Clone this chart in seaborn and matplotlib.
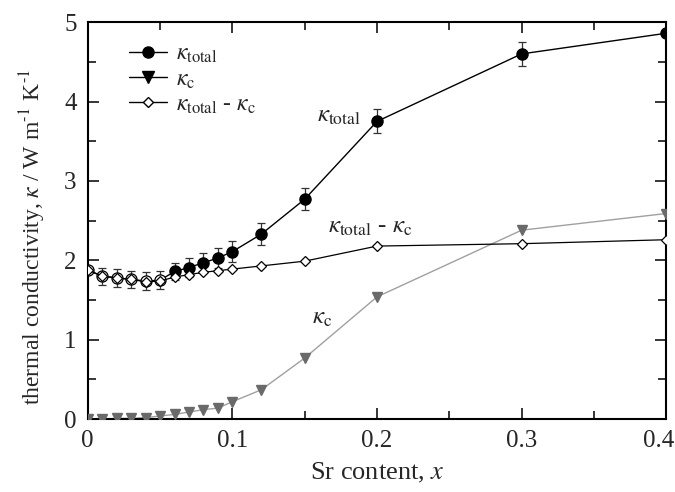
import numpy as np
import pandas as pd
import matplotlib
matplotlib.use("Agg")
import matplotlib.pyplot as plt
import matplotlib.transforms as mtransforms
from matplotlib.lines import Line2D
from matplotlib.ticker import MultipleLocator
import seaborn as sns

# ---- data ----
sr_x = [0, 0.01, 0.02, 0.03, 0.04, 0.05, 0.06, 0.07, 0.08, 0.09, 0.10, 0.12, 0.15, 0.20, 0.30, 0.40]
k_total = [1.88, 1.80, 1.78, 1.76, 1.74, 1.75, 1.86, 1.91, 1.97, 2.03, 2.11, 2.33, 2.77, 3.75, 4.60, 4.86]
k_total_err = [0.0, 0.11, 0.11, 0.11, 0.11, 0.11, 0.11, 0.12, 0.12, 0.12, 0.13, 0.14, 0.14, 0.15, 0.15, 0.0]
k_c = [0.0, 0.0, 0.01, 0.01, 0.02, 0.04, 0.06, 0.09, 0.12, 0.14, 0.22, 0.37, 0.77, 1.54, 2.38, 2.59]
k_diff = [1.88, 1.80, 1.78, 1.76, 1.73, 1.74, 1.79, 1.82, 1.85, 1.87, 1.89, 1.93, 1.99, 2.18, 2.21, 2.26]
x_ticklabels = ["0", "0.1", "0.2", "0.3", "0.4"]
open_upto = 0.05  # kappa_total markers drawn open up to this x

sns.set_theme(style="ticks")
plt.rcParams["font.family"] = ["Liberation Serif", "DejaVu Serif"]
plt.rcParams["mathtext.fontset"] = "stix"

df = pd.DataFrame({"x": sr_x, "total": k_total, "err": k_total_err, "c": k_c, "diff": k_diff})

fig = plt.figure(figsize=(6.75, 4.92), dpi=100)
ax = fig.add_axes([0.130, 0.148, 0.857, 0.807])

# kappa_c (gray)
sns.lineplot(data=df, x="x", y="c", ax=ax, color="#a0a0a0", lw=1.0, zorder=2)
ax.plot(df["x"], df["c"], ls="none", marker="v", ms=7.5, color="#6a6a6a", zorder=3)

# kappa_total (black) with error bars
sns.lineplot(data=df, x="x", y="total", ax=ax, color="black", lw=1.0, zorder=4)
ax.errorbar(df["x"], df["total"], yerr=df["err"], fmt="none", ecolor="#333333",
            elinewidth=0.9, capsize=3, capthick=0.9, zorder=4)
filled = df[df["x"] > open_upto]
opened = df[df["x"] <= open_upto]
ax.plot(filled["x"], filled["total"], ls="none", marker="o", ms=8, color="black", zorder=5)
ax.plot(opened["x"], opened["total"], ls="none", marker="o", ms=8, mfc="white",
        mec="black", mew=0.9, zorder=5)

# kappa_total - kappa_c (open diamonds)
sns.lineplot(data=df, x="x", y="diff", ax=ax, color="black", lw=0.9, zorder=6)
ax.plot(df["x"], df["diff"], ls="none", marker="D", ms=5.5, mfc="white",
        mec="black", mew=0.9, zorder=7)

ax.set_xlim(0, 0.4)
ax.set_ylim(0, 5)
ax.xaxis.set_minor_locator(MultipleLocator(0.05))
ax.yaxis.set_major_locator(MultipleLocator(1))
ax.yaxis.set_minor_locator(MultipleLocator(0.5))
ax.set_xticks([0, 0.1, 0.2, 0.3, 0.4])
ax.set_xticklabels(x_ticklabels)
ax.tick_params(which="both", direction="in", top=True, right=True, width=1.3, labelsize=18, pad=8)
ax.tick_params(which="major", length=8)
ax.tick_params(which="minor", length=6)
for s in ax.spines.values():
    s.set_linewidth(1.5)
    s.set_color("black")
# keep last x tick label inside the figure
last = ax.get_xticklabels()[-1]
last.set_transform(last.get_transform() + mtransforms.ScaledTranslation(-8 / 100, 0, fig.dpi_scale_trans))

ax.set_xlabel("Sr content, $x$", fontsize=19, labelpad=6)
ax.set_ylabel(r"thermal conductivity, $\kappa$ / W m$^{\text{-1}}$ K$^{\text{-1}}$", fontsize=17)
ax.yaxis.set_label_coords(-0.068, 0.46)

# annotations
ax.text(0.189, 3.82, r"$\kappa_{\rm total}$", fontsize=18, ha="right", va="center")
ax.text(0.166, 2.42, r"$\kappa_{\rm total}$ - $\kappa_{\rm c}$", fontsize=18, ha="left", va="center")
ax.text(0.155, 1.27, r"$\kappa_{\rm c}$", fontsize=18, ha="left", va="center")

handles = [
    Line2D([], [], color="black", lw=1.0, marker="o", ms=8),
    Line2D([], [], color="black", lw=1.0, marker="v", ms=8),
    Line2D([], [], color="black", lw=1.0, marker="D", ms=5.5, mfc="white", mec="black"),
]
labels = [r"$\kappa_{\rm total}$", r"$\kappa_{\rm c}$", r"$\kappa_{\rm total}$ - $\kappa_{\rm c}$"]
ax.legend(handles, labels, loc="upper left", bbox_to_anchor=(0.035, 1.0), frameon=False,
          fontsize=17, handlelength=1.6, labelspacing=0.15, handletextpad=0.4)

fig.savefig("out.png", dpi=100)
